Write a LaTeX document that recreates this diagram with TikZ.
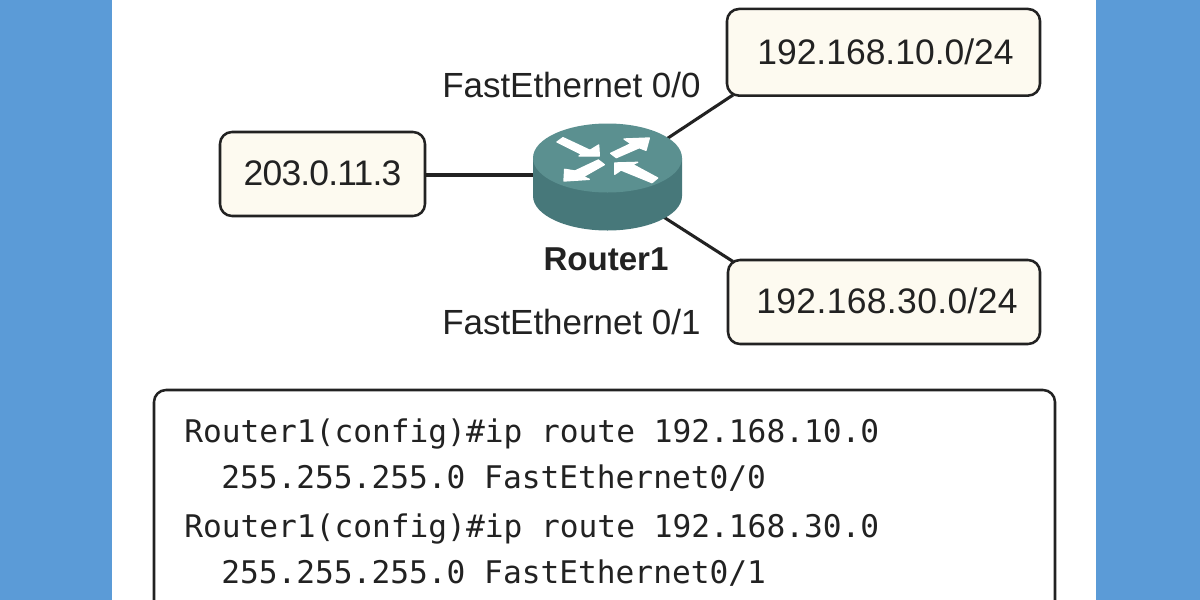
\documentclass[tikz,border=0pt]{standalone}
\usepackage{fontspec}
\setmainfont{Liberation Sans}
\newfontfamily\codefont{DejaVu Sans Mono}
\definecolor{pageblue}{HTML}{5B9BD7}
\definecolor{boxfill}{HTML}{FDFAF0}
\definecolor{inkc}{HTML}{222222}
\definecolor{routertop}{HTML}{5B9090}
\definecolor{routerside}{HTML}{47787A}
\tikzset{
  x=0.75pt,y=-0.75pt,
  netbox/.style={draw=inkc,line width=1.9pt,fill=boxfill,rounded corners=9pt,outer sep=0pt,inner sep=0pt,
    text=inkc,font=\fontsize{26.6pt}{30pt}\selectfont,text height=18.6pt,text depth=0.8pt,align=center},
  link/.style={draw=inkc,line width=2.3pt},
  portlabel/.style={anchor=base west,inner sep=0pt,text=inkc,font=\fontsize{26.2pt}{30pt}\selectfont},
  codeline/.style={anchor=base west,inner sep=0pt,text=inkc,font=\codefont\fontsize{23.4pt}{28pt}\selectfont},
  arrowshape/.style={fill=white,draw=white,line width=1pt,line join=round},
}
\begin{document}
\begin{tikzpicture}
\useasboundingbox (0,0) rectangle (1200,600);
\clip (0,0) rectangle (1200,600);
\fill[pageblue] (0,0) rectangle (1200,600);
\fill[white] (112,0) rectangle (1096,600);

\node[netbox,minimum width=153.75pt,minimum height=63pt] (wan) at (322.5,174) {\addfontfeature{LetterSpace=-2.3}203.0.11.3};
\node[netbox,minimum width=234.75pt,minimum height=65pt] (lan1) at (883.5,52.3) {\hspace*{3pt}192.168.10.0/24};
\node[netbox,minimum width=234pt,minimum height=63pt] (lan2) at (884,302) {\hspace*{4.5pt}\addfontfeature{LetterSpace=1}192.168.30.0/24};

\coordinate (rwest) at (540,175);
\coordinate (lan1end) at (733,95);
\coordinate (lan2end) at (733,261.5);
\coordinate (rne) at (660,143.3);
\coordinate (rse) at (657,212.8);
\draw[link] (wan.east |- rwest) -- (rwest);
\draw[link] (lan1end) -- (rne);
\draw[link] (lan2end) -- (rse);

% router
\fill[routerside] (533,158) -- (533,196) arc[start angle=180,end angle=360,x radius=74.5,y radius=-34.5] -- (682,158) -- cycle;
\fill[routertop] (607.5,158) ellipse[x radius=74.5,y radius=34.5];
\begin{scope}[shift={(500,100)},x=0.25pt,y=-0.25pt]
\filldraw[arrowshape] (171,126)--(189,113)--(270,151)--(296,135)--(298,168)--(237,168)--(245,163)--cycle;
\filldraw[arrowshape] (332,160)--(393,131)--(372,117)--(448,114)--(438,151)--(418,143)--(349,173)--cycle;
\filldraw[arrowshape] (295,180)--(225,213)--(194,208)--(192,243)--(268,238)--(250,230)--(313,194)--cycle;
\filldraw[arrowshape] (473,234)--(397,193)--(413,187)--(344,189)--(344,223)--(363,210)--(456,248)--cycle;
\end{scope}
\node[anchor=base,inner sep=0pt,text=inkc,font=\bfseries\fontsize{24.8pt}{30pt}\selectfont] (rlabel) at (606,270) {Router1};

\node[portlabel] (p0) at (442,97) {FastEthernet 0/0};
\node[portlabel] (p1) at (442,334) {FastEthernet 0/1};

\node[draw=inkc,line width=1.9pt,fill=white,rounded corners=9pt,outer sep=0pt,inner sep=0pt,minimum width=675.75pt,minimum height=240pt] (config) at (604.5,550) {};
\node[codeline] (c1) at (184,442) {Router1(config)\#ip route 192.168.10.0};
\node[codeline] (c2) at (221,488) {255.255.255.0 FastEthernet0/0};
\node[codeline] (c3) at (184,537) {Router1(config)\#ip route 192.168.30.0};
\node[codeline] (c4) at (221,583) {255.255.255.0 FastEthernet0/1};
\end{tikzpicture}
\end{document}
